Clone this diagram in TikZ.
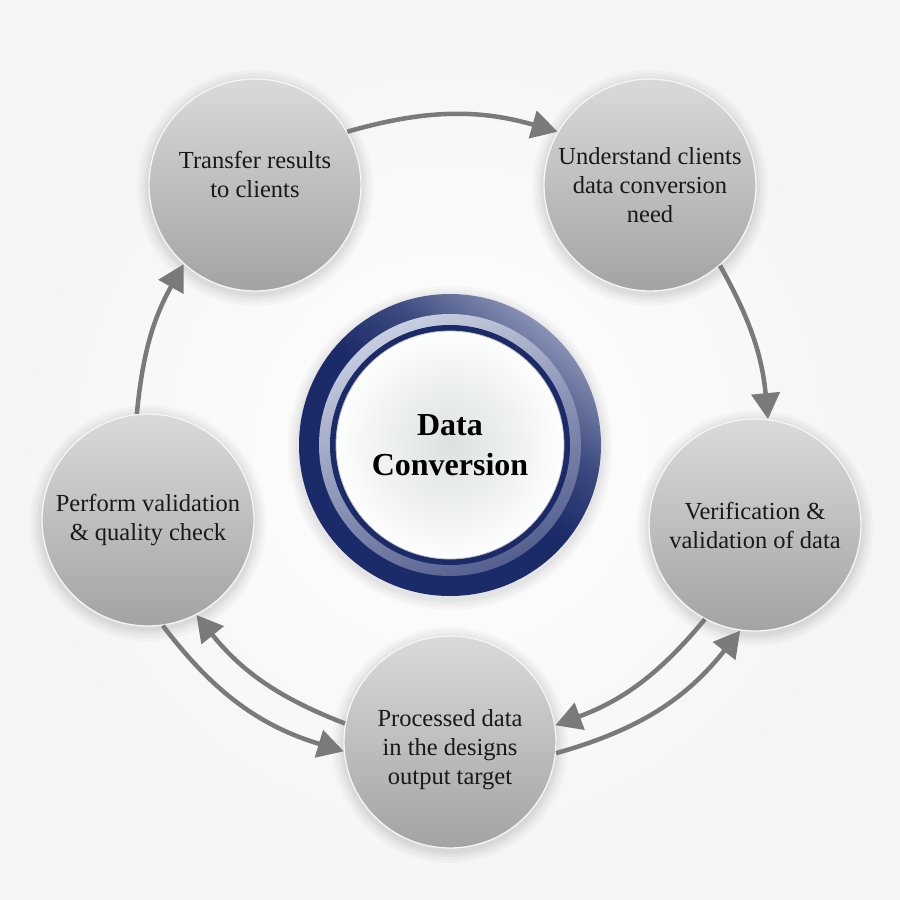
\documentclass[tikz,border=0pt]{standalone}
\usepackage{fontspec}
\setmainfont{Liberation Serif}
\usetikzlibrary{arrows.meta,backgrounds}
\definecolor{navy}{HTML}{1B2A68}
\definecolor{ringlight}{HTML}{C2C9DD}
\definecolor{arrowgray}{HTML}{7A7A7A}
\definecolor{bubtop}{HTML}{DADADA}
\definecolor{bubbot}{HTML}{A3A3A3}
\definecolor{facec}{HTML}{DCE1E1}
\pgfdeclareverticalshading{outerring}{100bp}{color(0bp)=(navy); color(50bp)=(navy); color(62bp)=(navy!80!ringlight); color(75bp)=(navy!35!ringlight); color(100bp)=(ringlight)}
\tikzset{
  bub/.style={circle, minimum size=212pt, inner sep=0pt, draw=white!96!black, line width=1.3pt,
    top color=bubtop, bottom color=bubbot, align=center,
    font=\fontsize{24.5}{29}\selectfont, text=black!90},
  arr/.style={draw=arrowgray, line width=4.5pt,
    -{Triangle[length=26pt,width=28pt]}},
  halo/.style={fill=black, opacity=0.022}
}
\begin{document}
\begin{tikzpicture}[x=1pt,y=-1pt]
\useasboundingbox (0,0) rectangle (900,900);
% nodes
\node[bub] (t) at (255,185) {\raisebox{2pt}[0pt][0pt]{\begin{tabular}{@{}c@{}}Transfer results\\to clients\end{tabular}}};
\node[bub] (u) at (650,185) {Understand clients\\data conversion\\need};
\node[bub] (v) at (755,525) {Verification \&\\validation of data};
\node[bub] (q) at (450,742) {\raisebox{-14pt}[0pt][0pt]{\begin{tabular}{@{}c@{}}Processed data\\in the designs\\output target\end{tabular}}};
\node[bub] (p) at (148,520) {Perform validation\\\& quality check};
% centre
\node[circle, minimum size=302pt, inner sep=0pt] (c) at (450,445) {};
\shade[shading=outerring, shading angle=-40] (c.center) circle (151);
\shade[left color=ringlight!90!white, right color=navy!75, shading angle=25] (c.center) circle (131);
\fill[navy] (c.center) circle (120);
\shade[inner color=facec, outer color=white!95!facec] (c.center) circle (114);
\draw[black!25, line width=0.8pt] (c.center) circle (114);
\node[font=\fontsize{32}{40}\selectfont\bfseries, align=center, text=black] (ct) at (c.center) {Data\\Conversion};
% arrows
\draw[arr] (t.30) to[bend left=16] (u.150);
\draw[arr] (u.-49) to[bend left=12] (v.83);
\draw[arr] (p.96) to[bend left=12] (t.228);
\draw[arr] (p.-82) to[bend right=18] (q.185);
\draw[arr] (q.170) to[bend left=15] (p.-63);
\draw[arr] (v.-118) to[bend left=15] (q.9);
\draw[arr] (q.-6) to[bend right=18] (v.-98);
% background
\begin{scope}[on background layer]
\shade[inner color=white, outer color=black!4] (0,0) rectangle (900,900);
\foreach \n in {t,u,v,q,p}{
  \foreach \r in {118,115,112,110,108}{
    \fill[halo] ([yshift=-3pt]\n.center) circle (\r);
  }
}
\foreach \r in {162,159,156,154}{
  \fill[halo] ([yshift=-3pt]c.center) circle (\r);
}
\end{scope}
\end{tikzpicture}
\end{document}
